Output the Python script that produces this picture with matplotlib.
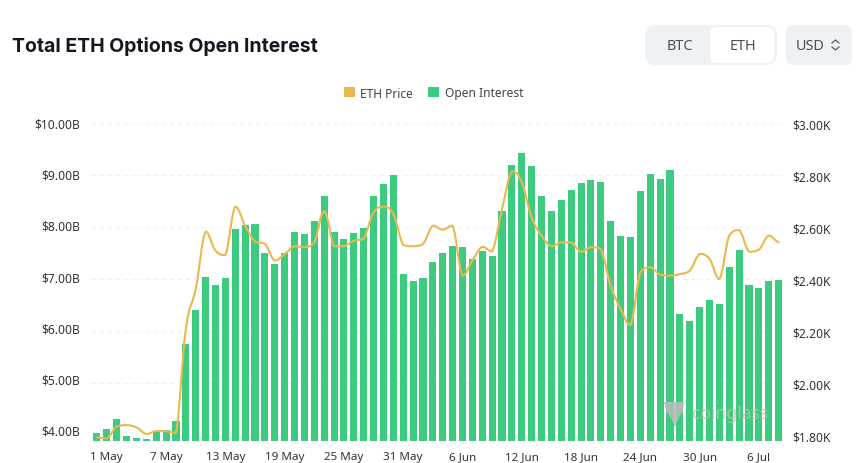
import matplotlib
matplotlib.use("Agg")
import matplotlib.pyplot as plt
import pandas as pd
from matplotlib.patches import FancyBboxPatch, Patch, PathPatch, Polygon
from matplotlib.path import Path
from matplotlib.lines import Line2D
from matplotlib.transforms import blended_transform_factory

dates = pd.date_range("2024-04-30", periods=70).strftime("%-d %b").tolist()
oi = [3.95,4.01,4.21,3.88,3.84,3.82,3.97,4.00,4.17,5.68,6.34,6.99,6.83,6.96,7.91,7.99,8.02,7.45,7.24,7.46,
      7.86,7.83,8.07,8.57,7.85,7.72,7.84,7.94,8.57,8.80,8.98,7.05,6.90,6.96,7.28,7.45,7.58,7.56,7.33,7.48,
      7.40,8.26,9.17,9.40,9.14,8.56,8.26,8.49,8.68,8.81,8.87,8.83,8.08,7.78,7.76,8.65,8.99,8.90,9.06,6.26,
      6.13,6.40,6.53,6.45,7.18,7.51,6.83,6.76,6.90,6.93]
price = [1.791,1.787,1.832,1.838,1.829,1.804,1.815,1.814,1.808,2.208,2.362,2.582,2.509,2.492,2.678,2.605,2.544,2.535,2.471,2.496,
         2.526,2.522,2.541,2.660,2.526,2.526,2.547,2.556,2.656,2.678,2.650,2.531,2.526,2.535,2.605,2.590,2.605,2.413,2.471,2.524,
         2.506,2.669,2.814,2.772,2.637,2.567,2.526,2.541,2.541,2.505,2.522,2.515,2.374,2.285,2.223,2.426,2.445,2.417,2.413,2.419,
         2.432,2.496,2.477,2.400,2.567,2.588,2.505,2.513,2.567,2.541]
oi_ticks = [4, 5, 6, 7, 8, 9, 10]
price_ticks = [1.8, 2.0, 2.2, 2.4, 2.6, 2.8, 3.0]

GREEN, GOLD = "#3DCB7F", "#E9B84F"
FONT = ["Noto Sans", "DejaVu Sans"]
plt.rcParams["font.family"] = FONT
W, H = 860, 464
fig = plt.figure(figsize=(W/100, H/100), dpi=100, facecolor="white")

def fx(p): return p / W
def fy(p): return 1 - p / H

TOP, BOT, L, R = 123.0, 442.0, 92.0, 783.6
ax = fig.add_axes([fx(L), fy(BOT), (R-L)/W, (BOT-TOP)/H])
ax.set_xlim(-0.5, 69.5)
ax.set_ylim(4 - (BOT-431)/51.3, 4 + (431-TOP)/51.3)
ax.patch.set_alpha(0)
x = list(range(len(oi)))
ax.bar(x, oi, width=0.72, color=GREEN, zorder=2)
for s in ax.spines.values():
    s.set_visible(False)
ax.set_yticks(oi_ticks, [f"${v:.2f}B" for v in oi_ticks])
ax.tick_params(axis="y", length=0, pad=8.5, labelsize=8.7, labelcolor="#333333")
ax.set_xticks(x[1::6], dates[1::6])
ax.tick_params(axis="x", length=0, pad=7, labelsize=8.4, labelcolor="#333333")

ax2 = ax.twinx()
ax2.set_ylim(1.8 - (BOT-436)/260, 1.8 + (436-TOP)/260)
ax2.patch.set_alpha(0)
for s in ax2.spines.values():
    s.set_visible(False)
ax2.set_yticks(price_ticks, [f"${v:.2f}K" for v in price_ticks])
ax2.tick_params(axis="y", length=0, pad=6.5, labelsize=8.7, labelcolor="#333333")

grid_tf = blended_transform_factory(ax.transAxes, ax2.transData)
for v in price_ticks[1:]:
    ax.plot([0, 0.995], [v, v], transform=grid_tf, color="#EEF0F2", lw=0.7,
            ls=(0, (4, 4)), zorder=0)

# smooth price line through the daily values, as cubic Bezier segments
k = 0.2
verts = [(x[0], price[0])]
codes = [Path.MOVETO]
n = len(price)
for i in range(n - 1):
    p0 = price[max(i-1, 0)]; p1 = price[i]; p2 = price[i+1]; p3 = price[min(i+2, n-1)]
    lo, hi = min(p1, p2), max(p1, p2)
    c1 = min(max(p1 + (p2-p0)*k, lo), hi)
    c2 = min(max(p2 - (p3-p1)*k, lo), hi)
    verts += [(x[i]+0.4, c1), (x[i+1]-0.4, c2), (x[i+1], p2)]
    codes += [Path.CURVE4]*3
ax2.add_patch(PathPatch(Path(verts, codes), fc="none", ec=GOLD, lw=1.5, capstyle="round", zorder=5))

# title
fig.text(fx(12), fy(47), "Total ETH Options Open Interest", fontsize=14.0, fontweight="bold",
         family=["Inter", "DejaVu Sans"], color="#14171F", va="center", ha="left")

# legend
handles = [Patch(fc=GOLD, ec="none"), Patch(fc=GREEN, ec="none")]
fig.legend(handles, ["ETH Price", "Open Interest"], loc="center", bbox_to_anchor=(fx(433.5), fy(94)),
           ncol=2, frameon=False, fontsize=8.6, labelcolor="#444444", handlelength=0.92, handleheight=0.92,
           handletextpad=0.45, columnspacing=1.3, borderpad=0)

# header controls
def box(x0, y0, x1, y1, fc, r=7, z=1):
    fig.add_artist(FancyBboxPatch((x0, H-y1), x1-x0, y1-y0, boxstyle=f"round,pad=0,rounding_size={r}",
                                  transform=None, fc=fc, ec="none", zorder=z))
box(645, 26, 777, 66, "#EFF2F5", r=11)
box(710, 28, 774, 64, "#FFFFFF", r=7, z=2)
box(786, 26, 852, 66, "#EFF2F5", r=7)
for tx, label in [(680, "BTC"), (742.5, "ETH"), (810, "USD")]:
    fig.text(fx(tx), fy(46), label, fontsize=10.4, color="#4A4F5A", ha="center", va="center", zorder=3)
for pts in ([(832, 44), (835.5, 41), (839, 44)], [(832, 48), (835.5, 51), (839, 48)]):
    fig.add_artist(Line2D([fx(a) for a, _ in pts], [fy(b) for _, b in pts], color="#555A64", lw=0.9, zorder=3))

# watermark
fig.add_artist(Polygon([(fx(a), fy(b)) for a, b in [(664, 403), (684, 403), (683, 412), (679, 418), (675, 428),
                                                     (671, 419), (666, 412)]],
                       fc="#B8BDB8", ec="none", alpha=0.9, zorder=6))
fig.text(fx(692), fy(414), "coinglass", fontsize=12.6, fontweight="bold", color="#BDBDBD", alpha=0.8,
         ha="left", va="center", zorder=6)

fig.savefig("out.png", dpi=100)
